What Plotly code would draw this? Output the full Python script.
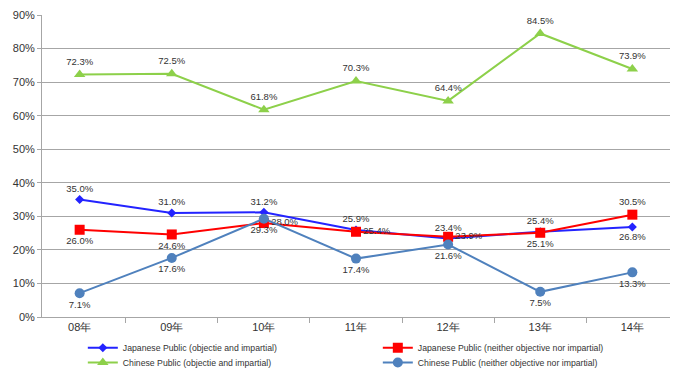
import plotly.graph_objects as go

years = ["08年", "09年", "10年", "11年", "12年", "13年", "14年"]
jp_obj = [35.0, 31.0, 31.2, 25.9, 23.4, 25.4, 26.8]
jp_neither = [26.0, 24.6, 28.0, 25.4, 23.9, 25.1, 30.5]
cn_obj = [72.3, 72.5, 61.8, 70.3, 64.4, 84.5, 73.9]
cn_neither = [7.1, 17.6, 29.3, 17.4, 21.6, 7.5, 13.3]

names = ["Japanese Public (objectie and impartial)",
         "Japanese Public (neither objective nor impartial)",
         "Chinese Public (objectie and impartial)",
         "Chinese Public (neither objective nor impartial)"]

pos_jp_obj = ["top center"] * 6 + ["bottom center"]
pos_jp_neither = ["bottom center", "bottom center", "middle right", "middle right",
                  "middle right", "bottom center", "top center"]
pos_cn_obj = ["top center"] * 7
pos_cn_neither = ["bottom center"] * 7

series = [
    (jp_obj, names[0], "#2323FF", "diamond", 7, pos_jp_obj, "legend"),
    (jp_neither, names[1], "#FF0000", "square", 10, pos_jp_neither, "legend"),
    (cn_obj, names[2], "#8DD04A", "triangle-up", 10, pos_cn_obj, "legend2"),
    (cn_neither, names[3], "#4F81BD", "circle", 10, pos_cn_neither, "legend2"),
]

fig = go.Figure()
for vals, name, color, sym, size, pos, leg in series:
    fig.add_trace(go.Scatter(
        x=years, y=vals, name=name, mode="lines+markers+text",
        line=dict(color=color, width=2),
        marker=dict(symbol=sym, size=size, color=color),
        text=[f"{v:.1f}%" for v in vals],
        textposition=pos,
        textfont=dict(size=9.5, color="#333333", family="Liberation Sans"),
        cliponaxis=False, legend=leg,
    ))

leg_common = dict(orientation="h", xanchor="left", yanchor="middle",
                  entrywidth=250, entrywidthmode="pixels",
                  font=dict(size=8.7, color="#333333"),
                  itemwidth=30, bgcolor="rgba(0,0,0,0)")

fig.update_layout(
    width=680, height=372,
    margin=dict(l=34, r=18, t=7, b=63, autoexpand=False),
    paper_bgcolor="white", plot_bgcolor="white",
    font=dict(family="Liberation Sans", color="#333333"),
    showlegend=True,
    legend=dict(x=0.065, y=-0.1016, **leg_common),
    legend2=dict(x=0.065, y=-0.1508, **leg_common),
)
fig.update_xaxes(
    type="category", showgrid=False, showline=True, linecolor="#A6A6A6",
    ticks="outside", tickson="boundaries", ticklen=5, tickcolor="#A6A6A6",
    tickfont=dict(size=11, color="#333333"),
)
fig.update_yaxes(
    range=[0, 90], dtick=10, ticksuffix="%",
    showgrid=True, gridcolor="#A6A6A6", gridwidth=1,
    showline=True, linecolor="#A6A6A6", ticks="outside", ticklen=4,
    tickcolor="#A6A6A6", tickfont=dict(size=11, color="#333333"),
    zeroline=False, ticklabeloverflow="allow",
)

fig.write_html("out.html")
